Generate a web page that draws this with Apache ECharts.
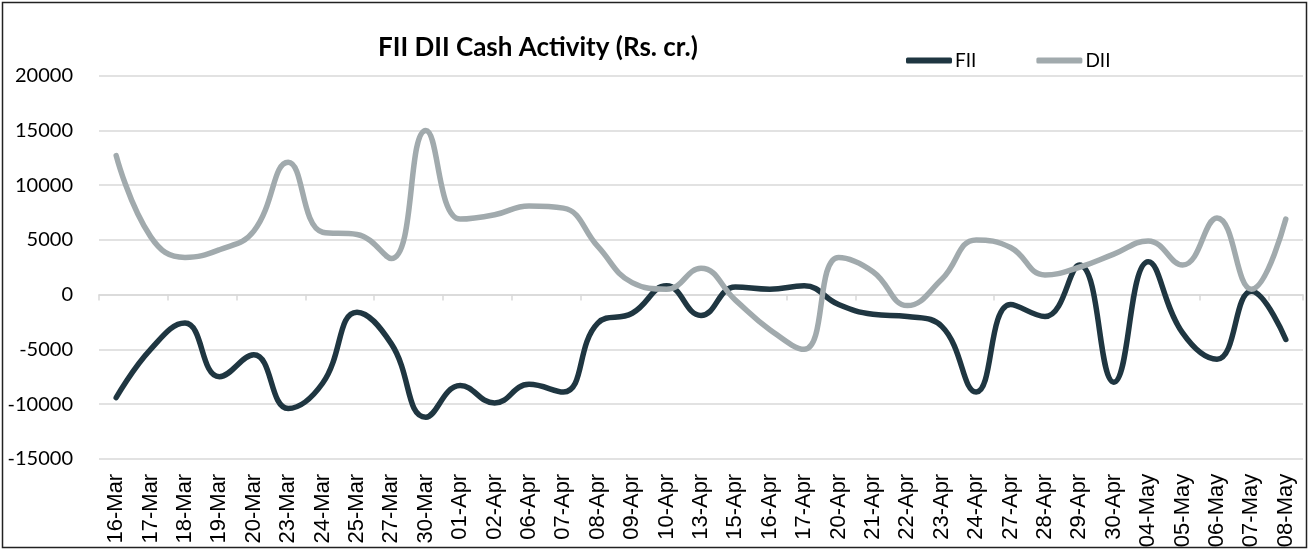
<!DOCTYPE html>
<html>
<head>
<meta charset="utf-8">
<script src="https://cdn.jsdelivr.net/npm/echarts@6/dist/echarts.min.js"></script>
<style>
html,body{margin:0;padding:0;background:#fff;}
#chart{width:1315px;height:555px;}
</style>
</head>
<body>
<div id="chart"></div>
<script>
const categories = ['16-Mar','17-Mar','18-Mar','19-Mar','20-Mar','23-Mar','24-Mar','25-Mar','27-Mar','30-Mar',
  '01-Apr','02-Apr','06-Apr','07-Apr','08-Apr','09-Apr','10-Apr','13-Apr','15-Apr','16-Apr','17-Apr',
  '20-Apr','21-Apr','22-Apr','23-Apr','24-Apr','27-Apr','28-Apr','29-Apr','30-Apr',
  '04-May','05-May','06-May','07-May','08-May'];
const fiiValues = [-9400, -5000, -2600, -7500, -5500, -10400, -8100, -1600, -4500, -11200,
  -8300, -9900, -8200, -8900, -2600, -1700, 800, -1900, 700, 500, 800,
  -900, -1800, -2000, -2900, -8900, -900, -2000, 2700, -8000,
  3000, -3500, -5900, 300, -4100];
const diiValues = [12700, 5300, 3400, 4100, 5800, 12100, 5700, 5500, 3300, 15000,
  6900, 7300, 8100, 7900, 4400, 1100, 500, 2400, -500, -3200, -5000,
  3400, 2100, -1000, 1400, 5000, 4300, 1800, 2500, 3700,
  4900, 2700, 7000, 500, 6900];
const yMin = -15000, yMax = 20000, yStep = 5000;
const titleText = 'FII DII Cash Activity (Rs. cr.)';

const chart = echarts.init(document.getElementById('chart'), null, {renderer: 'canvas'});
chart.setOption({
  animation: false,
  backgroundColor: '#fff',
  title: {
    text: titleText,
    left: 373, top: 30,
    textStyle: {fontFamily: 'Lato', fontWeight: 'bold', fontSize: 26, color: '#000'}
  },
  legend: {
    left: 901, top: 46,
    itemWidth: 46, itemHeight: 6, itemGap: 60,
    icon: 'roundRect',
    textStyle: {fontFamily: 'Lato', fontSize: 19, color: '#000', padding: [0,0,0,-2]},
    data: ['FII', 'DII']
  },
  graphic: [{
    type: 'rect', silent: true, z: 100,
    shape: {x: 2.5, y: 2.5, width: 1304, height: 545},
    style: {fill: 'none', stroke: '#222', lineWidth: 1.5}
  }],
  grid: {left: 99, right: 12, top: 75.7, bottom: 96.2, containLabel: false},
  xAxis: [{
    type: 'category', data: categories, boundaryGap: true, position: 'bottom',
    axisLine: {show: true, onZero: true, lineStyle: {color: '#d9d9d9', width: 1.5}},
    axisTick: {show: true, length: 6, lineStyle: {color: '#d9d9d9', width: 1.5}},
    axisLabel: {show: false}
  }, {
    type: 'category', data: categories, boundaryGap: true, position: 'bottom',
    axisLine: {show: false, onZero: false},
    axisTick: {show: false},
    axisLabel: {show: true, rotate: 90, margin: 15, interval: 0,
      fontFamily: 'Liberation Sans', fontSize: 22, color: '#000'}
  }],
  yAxis: {
    type: 'value', min: yMin, max: yMax, interval: yStep,
    axisLine: {show: false}, axisTick: {show: false},
    axisLabel: {margin: 26, fontFamily: 'Lato', fontSize: 20, color: '#000',
      formatter: function (v) { return String(v); }},
    splitLine: {lineStyle: {color: '#d9d9d9', width: 1.5}}
  },
  series: [{
    name: 'FII', type: 'line', data: fiiValues, smooth: 0.45,
    showSymbol: false, symbol: 'none',
    lineStyle: {color: '#1f3641', width: 5.5, cap: 'round', join: 'round'},
    itemStyle: {color: '#1f3641'}
  }, {
    name: 'DII', type: 'line', data: diiValues, smooth: 0.45,
    showSymbol: false, symbol: 'none',
    lineStyle: {color: '#a1aaad', width: 5.5, cap: 'round', join: 'round'},
    itemStyle: {color: '#a1aaad'}
  }]
});
</script>
</body>
</html>
